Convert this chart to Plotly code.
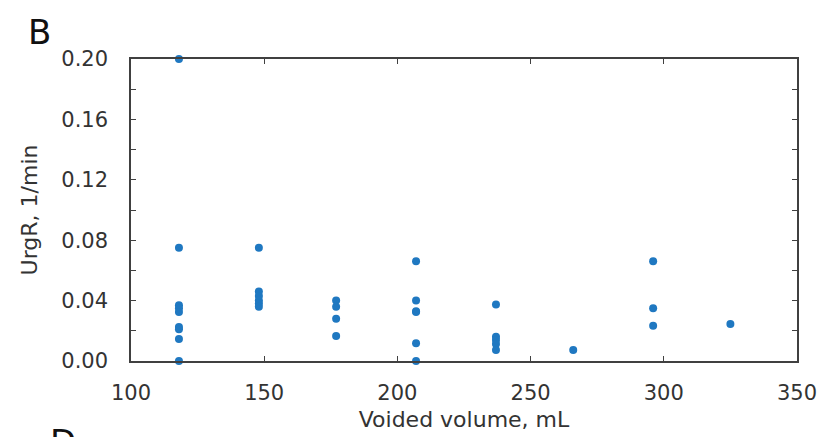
import plotly.graph_objects as go

# voided volume (mL) and urgency rate (1/min)
volume = [118, 118, 118, 118, 118, 118, 118, 118, 118,
          148, 148, 148, 148, 148, 148,
          177, 177, 177, 177,
          207, 207, 207, 207, 207, 207,
          237, 237, 237, 237, 237,
          266,
          296, 296, 296,
          325]
urgr = [0.200, 0.075, 0.037, 0.035, 0.0325, 0.0225, 0.021, 0.0146, 0.0,
        0.075, 0.046, 0.043, 0.040, 0.038, 0.036,
        0.040, 0.036, 0.028, 0.0166,
        0.066, 0.040, 0.033, 0.0325, 0.0117, 0.0,
        0.0375, 0.016, 0.0139, 0.0113, 0.0073,
        0.0073,
        0.066, 0.035, 0.0234,
        0.0245]

FONT = "DejaVu Sans"
AXIS_COLOR = "#404040"
TEXT_COLOR = "#333333"

fig = go.Figure()
fig.add_trace(go.Scatter(
    x=volume, y=urgr, mode="markers",
    marker=dict(color="#1f78c1", size=8),
    cliponaxis=False,
    showlegend=False,
))

fig.update_layout(
    width=821, height=437,
    paper_bgcolor="white", plot_bgcolor="white",
    margin=dict(l=131, r=24, t=59, b=76),
    font=dict(family=FONT, color=TEXT_COLOR),
)

# panel letters (B for this panel, top of D from the one below)
fig.add_annotation(text="B", xref="paper", yref="paper",
                   x=-0.158, y=1.162, xanchor="left", yanchor="top",
                   showarrow=False, font=dict(size=34, color="#111111", family=FONT))
fig.add_annotation(text="D", xref="paper", yref="paper",
                   x=-0.125, y=-0.195, xanchor="left", yanchor="top",
                   showarrow=False, font=dict(size=34, color="#111111", family=FONT))

fig.update_xaxes(
    range=[100, 350], dtick=50, tick0=100, automargin=False,
    ticks="inside", ticklen=5, tickcolor=AXIS_COLOR, ticklabelstandoff=12,
    showline=True, linecolor=AXIS_COLOR, linewidth=1.5, mirror="ticks",
    showgrid=False, zeroline=False,
    tickfont=dict(size=21, family=FONT, color=TEXT_COLOR),
    title=dict(text="Voided volume, mL", font=dict(size=22, family=FONT, color=TEXT_COLOR), standoff=8),
)
fig.update_yaxes(
    range=[0, 0.2], dtick=0.04, tickformat=".2f", automargin=False,
    ticks="inside", ticklen=5, tickcolor=AXIS_COLOR, ticklabelstandoff=17,
    minor=dict(dtick=0.02, ticks="inside", ticklen=5, tickcolor=AXIS_COLOR),
    showline=True, linecolor=AXIS_COLOR, linewidth=1.5, mirror="ticks",
    showgrid=False, zeroline=False,
    tickfont=dict(size=21, family=FONT, color=TEXT_COLOR),
    title=dict(text="UrgR, 1/min", font=dict(size=22, family=FONT, color=TEXT_COLOR), standoff=18),
)

# drop the default page margin so the figure fills the window exactly
fig.write_html("out.html", config={"displayModeBar": False},
               post_script="document.body.style.margin='0';document.body.style.overflow='hidden';")
